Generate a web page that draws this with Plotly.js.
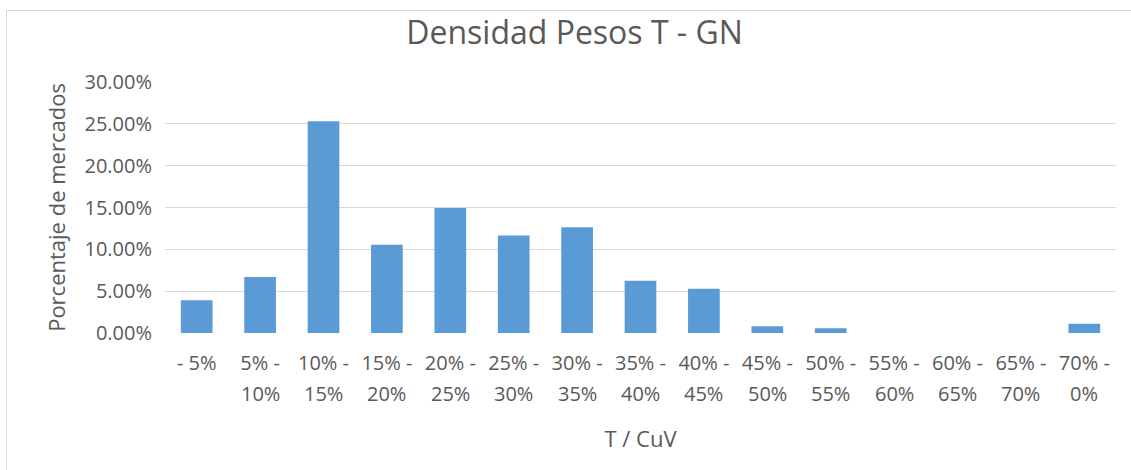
<!DOCTYPE html>
<html><head><meta charset="utf-8">
<script src="https://cdn.plot.ly/plotly-3.0.1.min.js"></script>
<style>body{margin:0;background:#fff}#c{width:1131px;height:470px}
#frame{position:absolute;left:6px;top:10px;width:1140px;height:470px;border:1px solid #d9d9d9;pointer-events:none}</style>
</head><body><div id="c"></div><div id="frame"></div>
<script>
const categories = ["- 5%","5% - 10%","10% - 15%","15% - 20%","20% - 25%","25% - 30%","30% - 35%","35% - 40%","40% - 45%","45% - 50%","50% - 55%","55% - 60%","60% - 65%","65% - 70%","70% - 0%"];
const labelLine1 = ["- 5%","5% -","10% -","15% -","20% -","25% -","30% -","35% -","40% -","45% -","50% -","55% -","60% -","65% -","70% -"];
const labelLine2 = ["","10%","15%","20%","25%","30%","35%","40%","45%","50%","55%","60%","65%","70%","0%"];
const values = [0.039,0.067,0.253,0.1055,0.1495,0.1165,0.1265,0.0625,0.053,0.008,0.0056,0,0,0,0.011];
const yTicks = [0,0.05,0.10,0.15,0.20,0.25,0.30];

const font = "'Open Sans', sans-serif";
const grey = "#595959";
const annotations = labelLine2.map((t,i)=>({x:categories[i],y:0,xref:'x',yref:'y',text:t,showarrow:false,yshift:-60,font:{family:font,size:20,color:grey}}));

Plotly.newPlot('c',[{
  type:'bar',x:categories,y:values,marker:{color:'#5b9bd5'},hoverinfo:'none'
}],{
  width:1131,height:470,
  margin:{l:165,r:15,t:82,b:137},
  paper_bgcolor:'rgba(0,0,0,0)',plot_bgcolor:'#fff',
  bargap:0.5,showlegend:false,
  title:{text:'Densidad Pesos T - GN',x:0.508,xanchor:'center',y:0.93,yanchor:'middle',font:{family:font,size:32,color:grey}},
  xaxis:{type:'category',tickmode:'array',tickvals:categories,ticktext:labelLine1,
    tickfont:{family:font,size:20,color:grey},ticks:'',ticklabelstandoff:16,showgrid:false,zeroline:false,showline:false,tickangle:0,
    title:{text:'T / CuV',font:{family:font,size:22,color:grey},standoff:56}},
  yaxis:{range:[0,0.30],tickmode:'array',tickvals:yTicks,tickformat:'.2%',
    tickfont:{family:font,size:20,color:grey},gridcolor:'#d9d9d9',gridwidth:1,zeroline:false,showline:false,ticklabelstandoff:12,
    title:{text:'Porcentaje de mercados',font:{family:font,size:22,color:grey},standoff:12}},
  annotations:annotations
},{staticPlot:true});
</script></body></html>
